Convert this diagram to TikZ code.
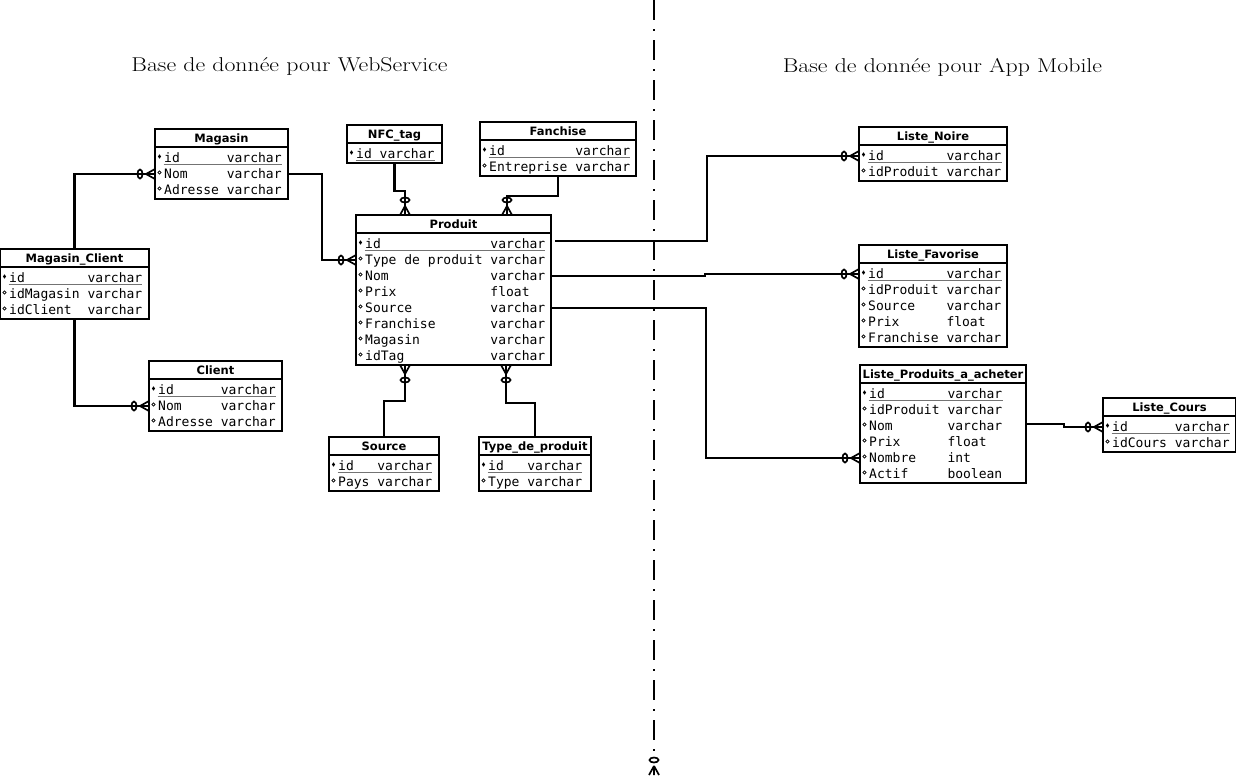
\documentclass[tikz,border=0pt]{standalone}
\usepackage{fontspec}
\usepackage{graphicx}
\setmonofont{DejaVu Sans Mono}
\newfontfamily\hdrfont{DejaVu Sans}
\usetikzlibrary{calc}

\tikzset{
  boxline/.style={line width=2pt},
  tblbox/.style={draw, line width=2pt, fill=white, inner sep=0pt, outer sep=0pt, anchor=north west},
  hdr/.style={font=\hdrfont\bfseries\fontsize{11.5}{14}\selectfont, inner sep=0pt, anchor=base},
  rowtxt/.style={font=\ttfamily\fontsize{13}{16}\selectfont, inner sep=0pt, anchor=base west},
  conn/.style={line width=2.1pt},
  crowline/.style={line width=1.7pt},
  uline/.style={line width=1pt, black!55},
  divider/.style={line width=2pt, dash pattern=on 20pt off 9pt on 2pt off 9pt},
  title/.style={font=\fontsize{20}{24}\selectfont, inner sep=0pt, anchor=base},
}

% key / optional markers
\newcommand\symk[2]{\fill ({#1-1.6},{#2}) -- ({#1},{#2-2.2}) -- ({#1+1.6},{#2}) -- ({#1},{#2+2.2}) -- cycle;}
\newcommand\symo[2]{\draw[line width=0.7pt] ({#1},{#2}) circle (1.7);}
\newcommand\ulk[2]{\draw[uline] ($(#1.base west)+(-0.5,2.2)$) -- ($(#2.base east)+(0,2.2)$);}
\newcommand\ulo[2]{}

% table: name, x, y, width, title, nrows, type column (chars), rows
\newcommand\ertbl[8]{%
  \node[tblbox, minimum width=#4, minimum height={22+16*#6}] (#1) at (#2,#3) {};
  \draw[boxline] ({#2},{#3+18}) -- ({#2+#4},{#3+18});
  \node[hdr] (#1-h) at ({#2+#4/2},{#3+13.5}) {#5};
  \foreach \nm/\ty/\kd [count=\i] in {#8} {
    \coordinate (#1-r\i) at ({#2},{#3+13+16*\i});
    \coordinate (#1-R\i) at ({#2+#4},{#3+13+16*\i});
    \node[rowtxt] (#1-n\i) at ({#2+9},{#3+17.7+16*\i}) {\nm};
    \node[rowtxt] (#1-t\i) at ({#2+9+7.83*#7},{#3+17.7+16*\i}) {\ty};
    \csname sym\kd\endcsname{#2+4.5}{#3+13+16*\i-1.5}
    \csname ul\kd\endcsname{#1-n\i}{#1-t\i}
  }
}

% crow's foot, zero or many: coordinate, outward direction (+1/-1)
\newcommand\crowh[2]{%
  \draw[crowline] ($(#1)+({9*#2},0)$) -- ($(#1)+(0,-5)$)
                  ($(#1)+({9*#2},0)$) -- (#1)
                  ($(#1)+({9*#2},0)$) -- ($(#1)+(0,5)$);
  \draw[crowline] ($(#1)+({15*#2},0)$) ellipse [x radius=2.5, y radius=4.5];
}
\newcommand\crowv[2]{%
  \draw[crowline] ($(#1)+(0,{9*#2})$) -- ($(#1)+(-5,0)$)
                  ($(#1)+(0,{9*#2})$) -- (#1)
                  ($(#1)+(0,{9*#2})$) -- ($(#1)+(5,0)$);
  \draw[crowline] ($(#1)+(0,{15*#2})$) ellipse [x radius=4.5, y radius=2.5];
}

\begin{document}
\begin{tikzpicture}[x=1pt, y=-1pt]
\fill[white] (0,0) rectangle (1236,777);
\useasboundingbox (0,0) rectangle (1236,777);

% titles
\node[title] (t1) at (289.5,71) {\scalebox{1.19}[1]{Base de donnée pour WebService}};
\node[title] (t2) at (942.5,72) {\scalebox{1.19}[1]{Base de donnée pour App Mobile}};

% divider
\coordinate (dvT) at (654,0);
\coordinate (dvM) at (654,752);
\coordinate (dvB) at (654,775);
\draw[divider] (dvT) -- (dvM);
\crowv{dvB}{-1}

% tables
\ertbl{mag}{155}{129}{133}{Magasin}{3}{8}{id/varchar/k, Nom/varchar/o, Adresse/varchar/o}
\ertbl{mc}{0}{249}{149}{Magasin\_Client}{3}{10}{id/varchar/k, idMagasin/varchar/o, idClient/varchar/o}
\ertbl{cli}{149}{361}{133}{Client}{3}{8}{id/varchar/k, Nom/varchar/o, Adresse/varchar/o}
\ertbl{nfc}{347}{125}{95}{NFC\_tag}{1}{3}{id/varchar/k}
\ertbl{fan}{480}{122}{156}{Fanchise}{2}{11}{id/varchar/k, Entreprise/varchar/o}
\ertbl{prod}{356}{215}{195}{Produit}{8}{16}{id/varchar/k, Type de produit/varchar/o, Nom/varchar/o, Prix/float/o, Source/varchar/o, Franchise/varchar/o, Magasin/varchar/o, idTag/varchar/o}
\ertbl{src}{329}{437}{110}{Source}{2}{5}{id/varchar/k, Pays/varchar/o}
\ertbl{typ}{479}{437}{112}{Type\_de\_produit}{2}{5}{id/varchar/k, Type/varchar/o}
\ertbl{ln}{859}{127}{148}{Liste\_Noire}{2}{10}{id/varchar/k, idProduit/varchar/o}
\ertbl{lf}{859}{245}{148}{Liste\_Favorise}{5}{10}{id/varchar/k, idProduit/varchar/o, Source/varchar/o, Prix/float/o, Franchise/varchar/o}
\ertbl{lpa}{860}{365}{166}{Liste\_Produits\_a\_acheter}{6}{10}{id/varchar/k, idProduit/varchar/o, Nom/varchar/o, Prix/float/o, Nombre/int/o, Actif/boolean/o}
\ertbl{lc}{1103}{398}{133}{Liste\_Cours}{2}{8}{id/varchar/k, idCours/varchar/o}

% attachment points on Produit
\coordinate (pA) at ($(prod.north west)+(49,0)$);
\coordinate (pB) at ($(prod.north west)+(151,0)$);
\coordinate (pC) at ($(prod.south west)+(49,0)$);
\coordinate (pD) at ($(prod.south west)+(150,0)$);
\coordinate (pE) at ($(prod.north east)+(4,26)$);

% connectors
\draw[conn] (mc.north) |- (mag-r2);
\crowh{mag-r2}{-1}
\draw[conn] (mc.south) |- (cli-r2);
\crowh{cli-r2}{-1}
\draw[conn] (mag-R2) -- ++(34,0) |- (prod-r2);
\crowh{prod-r2}{-1}
\draw[conn] (nfc.south) -- ++(0,28) -| (pA);
\crowv{pA}{-1}
\draw[conn] (fan.south) -- ++(0,20) -| (pB);
\crowv{pB}{-1}
\draw[conn] (src.north) -- ++(0,-36) -| (pC);
\crowv{pC}{1}
\draw[conn] (typ.north) -- ++(0,-34) -| (pD);
\crowv{pD}{1}
\draw[conn] (pE) -- ++(152,0) |- (ln-r1);
\crowh{ln-r1}{-1}
\draw[conn] (prod-R3) -- ++(154,0) |- (lf-r1);
\crowh{lf-r1}{-1}
\draw[conn] (prod-R5) -- ++(155,0) |- (lpa-r5);
\crowh{lpa-r5}{-1}
\draw[conn] (lpa.east) -- ++(38,0) |- (lc-r1);
\crowh{lc-r1}{-1}
\end{tikzpicture}
\end{document}
